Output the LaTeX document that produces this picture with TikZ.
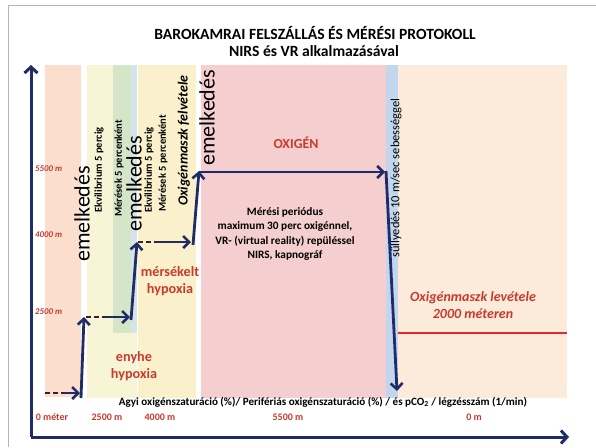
\documentclass[tikz,border=0pt]{standalone}
\usepackage{fontspec}
\setmainfont{Carlito}
\usetikzlibrary{arrows.meta}
\definecolor{navy}{HTML}{1F2C68}
\definecolor{dashc}{HTML}{3C1F2C}
\definecolor{redtxt}{HTML}{C83A2E}
\definecolor{redline}{HTML}{E02A2A}
\definecolor{bandA}{HTML}{FBDECE}
\definecolor{bandB}{HTML}{F7F5D6}
\definecolor{bandG}{HTML}{D5E6C8}
\definecolor{bandLB}{HTML}{D3E5E8}
\definecolor{bandY}{HTML}{FAF1CC}
\definecolor{bandP}{HTML}{F5CFCF}
\definecolor{bandBl}{HTML}{C2D6EE}
\definecolor{bandPe}{HTML}{FCEBDB}
\definecolor{framec}{HTML}{B4B4B4}
\tikzset{
  tip/.style={-{Straight Barb[length=6pt,width=12pt,line width=2.6pt]}},
  flow/.style={navy, line width=2.8pt, tip},
  dashseg/.style={dashc, line width=2.6pt, dash pattern=on 5pt off 3pt},
  axis/.style={navy, line width=3pt, -{Straight Barb[length=6pt,width=13pt,line width=3pt]}},
  vtxt/.style={rotate=90, anchor=west, inner sep=0pt},
  emel/.style={vtxt, font=\fontsize{22}{24}\selectfont},
  small/.style={vtxt, font=\fontsize{10.5}{12}\selectfont\bfseries},
  redb/.style={text=redtxt, font=\fontsize{14.2}{17}\selectfont\bfseries, align=center, inner sep=0pt},
  ylab/.style={text=redtxt, font=\fontsize{8.8}{10}\selectfont\bfseries\itshape, anchor=west, inner sep=0pt},
  xlab/.style={text=redtxt, font=\fontsize{10}{12}\selectfont\bfseries, inner sep=0pt},
  blk/.style={font=\fontsize{11.3}{14.5}\selectfont\bfseries, align=center, inner sep=0pt}
}
\begin{document}
\begin{tikzpicture}[x=1pt,y=-1pt]
\useasboundingbox (0,0) rectangle (596,447);
\fill[white] (0,0) rectangle (596,447);
% frame
\draw[framec, line width=1pt] (8,447) -- (8,5) -- (596,5);
% bands
\fill[bandA] (45,65) rectangle (81,397);
\fill[bandB] (87,65) rectangle (137,398);
\fill[bandG] (113,65) rectangle (131,333);
\fill[bandLB] (131,65) rectangle (137,333);
\fill[bandY] (138,65) rectangle (196,398);
\fill[bandP] (201,65) rectangle (386,398);
\fill[bandBl] (386,65) rectangle (398,398);
\fill[bandPe] (398,65) rectangle (567,398);
% title
\node[font=\fontsize{15.6}{18}\selectfont\bfseries, inner sep=0pt] (t1) at (315,33) {BAROKAMRAI FELSZÁLLÁS ÉS MÉRÉSI PROTOKOLL};
\node[font=\fontsize{15.6}{18}\selectfont\bfseries, inner sep=0pt] (t2) at (314,51) {NIRS és VR alkalmazásával};
% axes
\coordinate (O) at (31,437);
\coordinate (Ytop) at (31,65);
\coordinate (Xend) at (569,437);
\draw[axis] (O) -- (Ytop);
\draw[axis] (O) -- (Xend);
% y labels
\node[ylab] (y55) at (35,169) {5500 m};
\node[ylab] (y40) at (35,235) {4000 m};
\node[ylab] (y25) at (35,312) {2500 m};
% x labels
\node[xlab] (x0) at (52,417) {0 méter};
\node[xlab] (x25) at (107,417) {2500 m};
\node[xlab] (x40) at (160,417) {4000 m};
\node[xlab] (x55) at (288,417) {5500 m};
\node[xlab] (x00) at (474,417) {0 m};
\node[font=\fontsize{11.1}{13}\selectfont\bfseries, inner sep=0pt] (axtitle) at (323,402) {Agyi oxigénszaturáció (\%)/ Perifériás oxigénszaturáció (\%) / és pCO\textsubscript{2} / légzésszám (1/min)};
% vertical texts
\node[emel] (e1) at (82,262) {emelkedés};
\node[small] (ek1) at (99,213) {Ekvilibrium 5 percig};
\node[small] (me1) at (119,217) {Mérések 5 percenként};
\node[emel] (e2) at (134,232) {emelkedés};
\node[small] (ek2) at (149,213) {Ekvilibrium 5 percig};
\node[small] (me2) at (163,212) {Mérések 5 percenként};
\node[vtxt, font=\fontsize{14}{16}\selectfont\bfseries\itshape] (omf) at (184,206) {Oxigénmaszk felvétele};
\node[emel] (e3) at (207,166) {emelkedés};
\node[vtxt, font=\fontsize{12.5}{15}\selectfont] (sul) at (396,258) {süllyedés 10 m/sec sebességgel};
% labels
\node[redb, font=\fontsize{13.8}{16}\selectfont\bfseries] (oxi) at (296,143) {OXIGÉN};
\node[blk] (meres) at (285,234) {Mérési periódus\\maximum 30 perc oxigénnel,\\VR- (virtual reality) repüléssel\\NIRS, kapnográf};
\node[redb] (mers) at (170,281) {mérsékelt\\hypoxia};
\node[redb] (enyhe) at (134,366) {enyhe\\hypoxia};
\node[redb, font=\fontsize{14}{17}\selectfont\bfseries\itshape] (levet) at (473,305) {Oxigénmaszk levétele\\2000 méteren};
% red line
\coordinate (rl1) at (398,333);
\coordinate (rl2) at (567,333);
\draw[redline, line width=2pt] (rl1) -- (rl2);
% step path
\coordinate (a0) at (45,393);
\coordinate (a1) at (64,393);
\coordinate (a2) at (80,393);
\coordinate (b0) at (81,398);
\coordinate (b1) at (84,317);
\coordinate (c0) at (86,317);
\coordinate (c1) at (106,317);
\coordinate (c2) at (130,317);
\coordinate (d0) at (131,320);
\coordinate (d1) at (137,242);
\coordinate (f0) at (138,242);
\coordinate (f1) at (157,242);
\coordinate (f2) at (191,242);
\coordinate (g0) at (193,245);
\coordinate (g1) at (199,171);
\coordinate (h0) at (199,172);
\coordinate (h1) at (385,172);
\coordinate (k0) at (386,171);
\coordinate (k1) at (397,391);
\draw[dashseg] (a0) -- (a1);
\draw[flow] (a1) -- (a2);
\draw[flow] (b0) -- (b1);
\draw[dashseg] (c0) -- (c1);
\draw[flow] (c1) -- (c2);
\draw[flow] (d0) -- (d1);
\draw[dashseg] (f0) -- (f1);
\draw[flow] (f1) -- (f2);
\draw[flow] (g0) -- (g1);
\draw[flow] (h0) -- (h1);
\draw[flow] (k0) -- (k1);
\end{tikzpicture}
\end{document}
